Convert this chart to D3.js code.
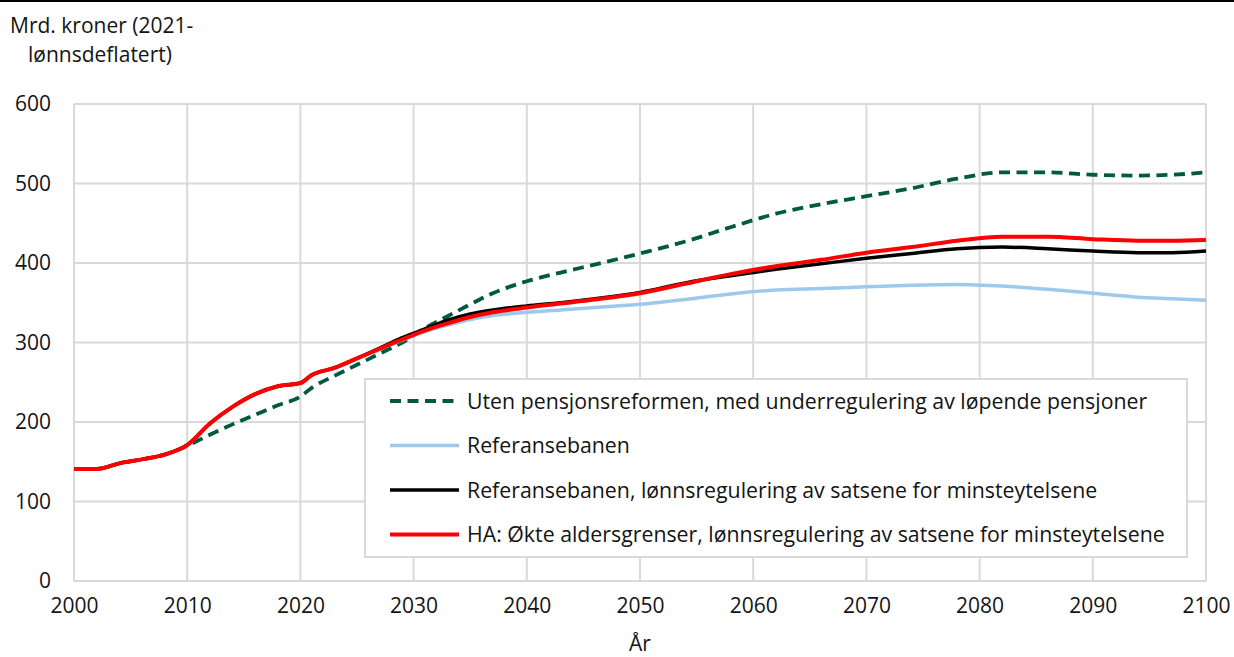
<!DOCTYPE html>
<html lang="no">
<head>
<meta charset="utf-8">
<script src="https://cdn.jsdelivr.net/npm/d3@7"></script>
<style>
  body { margin: 0; background: #fff; }
  text { font-family: "Open Sans", "Noto Sans", sans-serif; fill: #141414; }
  .grid line { stroke: #d9d9d9; stroke-width: 2; }
  .tick text { font-size: 21px; }
  .line { fill: none; stroke-linejoin: round; }
</style>
</head>
<body>
<div id="chart"></div>
<script>
var years = [2000, 2002, 2004, 2006, 2008, 2010, 2012, 2014, 2016, 2018, 2020, 2021, 2023, 2025, 2027, 2029,
             2031, 2033, 2035, 2037, 2040, 2043, 2046, 2050, 2054, 2058, 2062, 2066, 2070, 2074, 2078, 2082,
             2086, 2090, 2094, 2097, 2100];

// Uten pensjonsreformen, med underregulering av løpende pensjoner
var utenReform = [141, 141, 148, 153, 159, 170, 184, 197, 209, 221, 232, 243, 258, 272, 286, 300,
                  318, 333, 348, 362, 377, 388, 398, 412, 427, 445, 462, 474, 484, 494, 506, 514,
                  514, 511, 510, 511, 514];
// Referansebanen
var referanse = [141, 141, 148, 153, 159, 171, 198, 219, 235, 245, 249, 259, 268, 280, 292, 303,
                 314, 322, 329, 334, 338, 341, 344, 348, 354, 361, 366, 368, 370, 372, 373, 371,
                 367, 362, 357, 355, 353];
// Referansebanen, lønnsregulering av satsene for minsteytelsene
var refLonn = [141, 141, 148, 153, 159, 171, 198, 219, 235, 245, 249, 259, 268, 280, 293, 306,
               317, 328, 336, 341, 346, 350, 355, 363, 375, 384, 392, 399, 406, 412, 418, 420,
               418, 415, 413, 413, 415];
// HA: Økte aldersgrenser, lønnsregulering av satsene for minsteytelsene
var haLonn = [141, 141, 148, 153, 159, 171, 198, 219, 235, 245, 249, 259, 268, 280, 292, 304,
              315, 324, 332, 338, 344, 349, 354, 362, 374, 386, 396, 404, 413, 420, 428, 433,
              433, 430, 428, 428, 429];

var xTicks = d3.range(2000, 2101, 10);
var yTicks = [0, 100, 200, 300, 400, 500, 600];

var series = [
  {name: "Uten pensjonsreformen, med underregulering av løpende pensjoner", values: utenReform, color: "#005a40", width: 3.8, dash: "11,6.5"},
  {name: "Referansebanen", values: referanse, color: "#9dcaec", width: 3.5, dash: null},
  {name: "Referansebanen, lønnsregulering av satsene for minsteytelsene", values: refLonn, color: "#000000", width: 3.5, dash: null},
  {name: "HA: Økte aldersgrenser, lønnsregulering av satsene for minsteytelsene", values: haLonn, color: "#ff0000", width: 4, dash: null}
];

var width = 1234, height = 657;
var margin = {top: 104, right: 28, bottom: 76, left: 74};

var svg = d3.select("#chart").append("svg")
    .attr("width", width)
    .attr("height", height);

// top rule
svg.append("line")
    .attr("x1", 0).attr("x2", width)
    .attr("y1", 1).attr("y2", 1)
    .style("stroke", "#000").style("stroke-width", 2);

var x = d3.scaleLinear().domain([2000, 2100]).range([margin.left, width - margin.right]);
var y = d3.scaleLinear().domain([0, 600]).range([height - margin.bottom, margin.top]);

// grid
var grid = svg.append("g").attr("class", "grid");
grid.selectAll(".gx").data(xTicks).enter().append("line")
    .attr("x1", d => x(d)).attr("x2", d => x(d))
    .attr("y1", y(0)).attr("y2", y(600));
grid.selectAll(".gy").data(yTicks).enter().append("line")
    .attr("x1", x(2000)).attr("x2", x(2100))
    .attr("y1", d => y(d)).attr("y2", d => y(d));

// axes (labels only)
var xAxis = svg.append("g")
    .attr("transform", "translate(0," + y(0) + ")")
    .call(d3.axisBottom(x).tickValues(xTicks).tickFormat(d3.format("d")).tickSize(0).tickPadding(17));
xAxis.select(".domain").remove();

var yAxis = svg.append("g")
    .attr("transform", "translate(" + x(2000) + ",0)")
    .call(d3.axisLeft(y).tickValues(yTicks).tickSize(0).tickPadding(23));
yAxis.select(".domain").remove();

svg.selectAll(".tick text").style("fill", "#141414");

// lines
var line = d3.line()
    .x((d, i) => x(years[i]))
    .y(d => y(d))
    .curve(d3.curveMonotoneX);

series.forEach(function(s) {
  svg.append("path")
      .datum(s.values)
      .attr("class", "line")
      .attr("d", line)
      .style("stroke", s.color)
      .style("stroke-width", s.width)
      .style("stroke-dasharray", s.dash);
});

// legend
var lg = svg.append("g").attr("transform", "translate(365,379)");
lg.append("rect")
    .attr("width", 822).attr("height", 178)
    .style("fill", "#fff").style("stroke", "#d9d9d9").style("stroke-width", 2);

var item = lg.selectAll(".legend").data(series).enter().append("g")
    .attr("class", "legend")
    .attr("transform", (d, i) => "translate(0," + (22 + i * 44.5) + ")");
item.append("line")
    .attr("x1", 25).attr("x2", 94)
    .attr("y1", 0).attr("y2", 0)
    .style("stroke", d => d.color)
    .style("stroke-width", d => d.width)
    .style("stroke-dasharray", d => d.dash);
item.append("text")
    .attr("x", 102).attr("y", 7.5)
    .style("font-size", "21.3px")
    .text(d => d.name);

// titles
svg.append("text").attr("x", 10).attr("y", 33).style("font-size", "21px").text("Mrd. kroner (2021-");
svg.append("text").attr("x", 28).attr("y", 62).style("font-size", "21px").text("lønnsdeflatert)");
svg.append("text").attr("x", x(2050)).attr("y", 651).style("text-anchor", "middle").style("font-size", "21px").text("År");
</script>
</body>
</html>
